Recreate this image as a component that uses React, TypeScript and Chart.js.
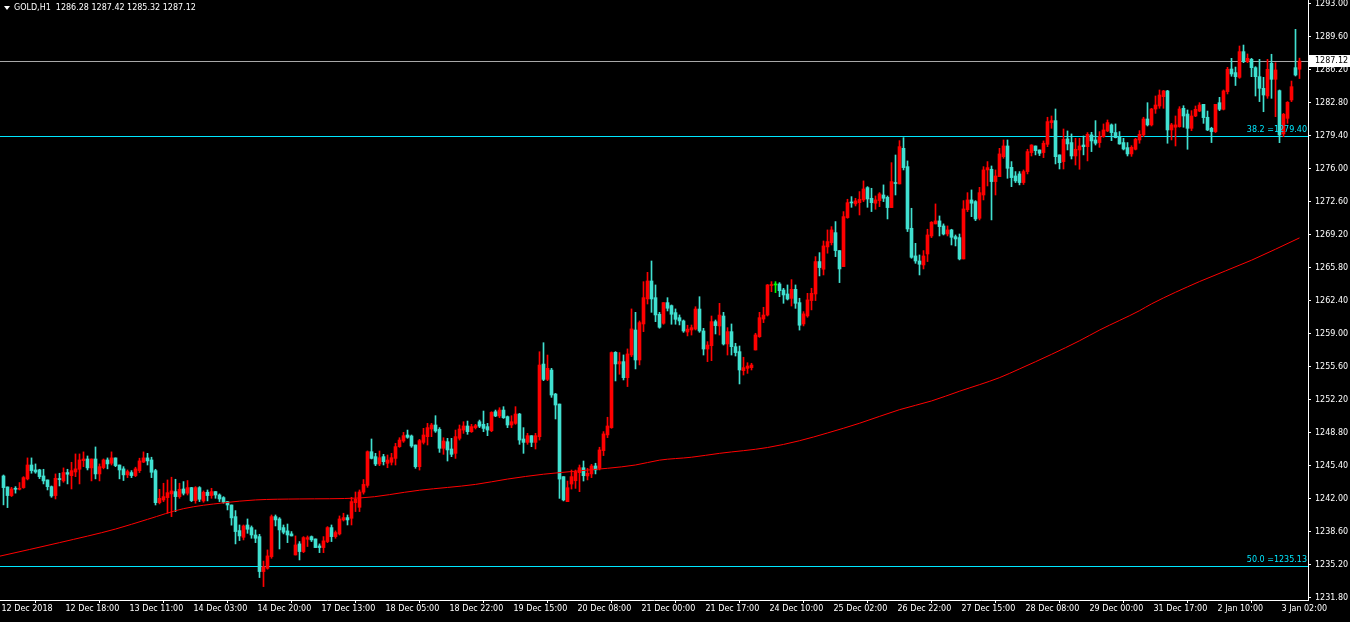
import React, { useEffect, useRef } from 'react';
import { Chart, registerables } from 'chart.js';

Chart.register(...registerables);

const symbolTitle = 'GOLD,H1';

const opens = [
1244.37,1243.24,1242.35,1243.1,1243.0,1243.17,1244.07,1245.5,1244.99,1245.0,
1244.37,1243.96,1243.27,1242.35,1244.05,1243.86,1244.72,1244.4,1244.78,1245.06,
1245.95,1246.12,1245.2,1246.12,1244.58,1245.23,1246.02,1245.68,1246.23,1245.5,
1245.1,1244.48,1244.72,1244.41,1244.92,1245.8,1246.23,1246.02,1244.92,1241.62,
1241.9,1242.14,1242.52,1242.76,1242.24,1243.03,1242.59,1243.17,1241.83,1243.17,
1241.8,1242.69,1242.35,1242.76,1242.41,1242.14,1241.73,1241.38,1240.18,1238.74,
1238.05,1239.32,1239.05,1238.29,1238.12,1234.52,1234.86,1236.06,1240.18,1239.94,
1239.05,1238.71,1238.4,1236.23,1237.37,1236.58,1237.85,1238.12,1237.88,1237.16,
1236.99,1237.61,1239.05,1238.12,1238.4,1239.84,1240.08,1240.01,1241.62,1241.14,
1242.7,1243.4,1246.87,1246.36,1245.6,1246.36,1245.67,1245.78,1246.18,1247.39,
1247.97,1248.59,1248.49,1247.56,1245.33,1247.83,1248.42,1249.21,1249.62,1249.17,
1247.22,1247.9,1247.15,1246.7,1248.25,1249.1,1249.52,1248.93,1249.35,1249.96,
1249.69,1249.45,1249.03,1250.99,1250.55,1251.16,1250.48,1249.62,1249.79,1250.75,
1248.18,1247.83,1248.52,1247.83,1248.42,1255.9,1254.32,1255.28,1252.81,1251.78,
1244.3,1241.72,1243.54,1243.88,1244.71,1245.22,1244.37,1244.58,1245.4,1245.16,
1246.98,1248.6,1249.35,1257.11,1255.91,1256.15,1254.5,1256.84,1259.41,1256.32,
1260.03,1262.61,1264.46,1262.74,1261.03,1260.1,1262.23,1261.92,1261.2,1260.68,
1260.34,1259.2,1259.41,1259.51,1261.57,1259.31,1257.45,1257.79,1260.27,1259.82,
1260.85,1257.97,1259.24,1257.69,1257.18,1255.22,1255.46,1255.53,1257.35,1258.72,
1260.54,1260.95,1263.99,1264.05,1264.15,1263.53,1263.12,1262.67,1263.6,1262.23,
1260.03,1260.86,1262.44,1263.12,1266.46,1265.67,1267.97,1268.41,1269.44,1267.59,
1265.94,1270.99,1272.53,1272.4,1272.53,1272.81,1274.08,1272.98,1272.47,1272.74,
1273.32,1273.08,1272.02,1274.53,1274.46,1278.13,1276.24,1269.89,1267.04,1266.52,
1266.11,1267.24,1269.1,1270.34,1270.65,1270.13,1269.3,1269.72,1269.03,1268.93,
1266.73,1271.81,1272.81,1272.64,1270.92,1273.32,1275.9,1275.97,1274.7,1275.21,
1277.27,1278.37,1276.17,1275.28,1275.49,1274.6,1275.73,1277.69,1278.37,1277.96,
1277.69,1278.54,1280.78,1280.98,1277.45,1276.76,1279.1,1278.72,1277.34,1277.96,
1278.47,1278.3,1279.51,1278.99,1278.72,1279.33,1279.92,1280.54,1279.75,1279.27,
1278.72,1278.2,1277.55,1278.03,1278.99,1279.51,1281.15,1280.54,1282.18,1282.49,
1283.45,1284.04,1280.02,1280.3,1280.36,1282.25,1281.66,1280.19,1281.46,1281.97,
1282.66,1281.33,1280.19,1279.85,1282.83,1282.15,1283.97,1286.3,1285.93,1285.44,
1288.09,1287.06,1287.3,1286.44,1285.51,1284.31,1283.52,1286.89,1285.24,1284.07,
1279.61,1281.22,1283.11,1286.44,1286.28
];

const highs = [
1244.47,1243.24,1243.2,1243.27,1243.69,1244.3,1246.23,1246.23,1245.61,1245.06,
1245.06,1243.96,1243.34,1244.58,1244.65,1245.2,1245.06,1245.78,1246.64,1246.64,
1246.85,1246.43,1246.12,1247.36,1245.61,1246.12,1246.23,1246.85,1246.23,1245.5,
1245.33,1244.99,1244.92,1245.27,1246.2,1246.85,1246.7,1246.3,1245.06,1242.99,
1243.62,1243.96,1244.24,1244.03,1243.62,1243.79,1243.9,1243.2,1243.27,1243.27,
1242.83,1242.93,1243.1,1242.76,1242.52,1242.24,1241.73,1241.38,1240.8,1239.32,
1239.32,1239.94,1239.22,1238.81,1238.36,1235.6,1236.75,1240.35,1240.35,1240.08,
1239.32,1239.42,1238.64,1238.19,1237.61,1238.12,1238.19,1238.19,1237.88,1237.37,
1238.12,1239.15,1239.32,1238.71,1240.25,1240.53,1240.35,1242.17,1242.72,1242.93,
1244.0,1246.95,1248.18,1246.7,1246.94,1246.6,1246.53,1246.7,1247.73,1248.31,
1248.86,1249.1,1248.59,1247.56,1248.14,1249.28,1249.79,1249.79,1250.58,1249.35,
1248.31,1248.25,1248.25,1249.1,1249.62,1249.96,1250.03,1249.69,1249.69,1250.13,
1251.06,1249.79,1250.99,1251.16,1251.4,1251.51,1250.55,1250.58,1251.51,1250.82,
1249.35,1248.76,1248.52,1248.76,1257.17,1258.1,1256.83,1255.46,1252.88,1251.78,
1244.3,1243.85,1244.98,1244.98,1245.5,1245.91,1245.16,1245.57,1245.68,1247.33,
1248.94,1250.42,1257.15,1257.18,1257.08,1256.84,1257.46,1261.58,1261.23,1260.34,
1264.39,1265.35,1266.52,1264.05,1261.23,1262.23,1262.74,1261.99,1261.58,1260.96,
1260.44,1259.9,1259.92,1261.81,1262.84,1259.58,1258.21,1260.85,1260.44,1262.16,
1261.23,1259.65,1260.03,1258.04,1257.76,1256.6,1256.04,1255.98,1259.07,1261.23,
1261.75,1264.1,1264.39,1264.39,1264.29,1263.7,1264.05,1264.6,1264.05,1262.68,
1261.3,1263.19,1263.71,1266.97,1267.38,1268.58,1269.72,1270.06,1270.58,1267.59,
1271.61,1272.88,1273.15,1272.98,1273.67,1274.77,1274.18,1274.01,1273.22,1273.56,
1274.36,1273.22,1276.65,1277.44,1278.92,1279.23,1276.83,1271.95,1268.34,1267.14,
1267.59,1269.79,1270.58,1272.4,1271.16,1270.34,1270.13,1269.79,1269.2,1269.3,
1272.74,1273.56,1273.84,1272.74,1274.11,1276.24,1276.76,1276.31,1275.9,1278.13,
1278.99,1278.99,1276.76,1275.73,1275.73,1275.9,1278.03,1278.5,1278.37,1277.96,
1278.89,1281.33,1281.46,1282.18,1277.45,1280.12,1279.92,1279.61,1279.16,1279.16,
1279.4,1279.75,1279.78,1280.98,1279.85,1280.64,1281.05,1280.64,1280.64,1279.85,
1279.16,1278.72,1278.4,1279.16,1279.95,1281.33,1282.83,1282.25,1283.52,1284.14,
1284.1,1284.1,1280.7,1281.46,1282.42,1282.52,1282.08,1282.01,1282.49,1282.83,
1282.66,1281.97,1280.3,1282.66,1283.38,1284.14,1286.47,1287.4,1286.5,1288.67,
1288.77,1287.85,1287.4,1286.54,1287.3,1285.44,1287.3,1287.82,1286.95,1284.14,
1281.73,1282.94,1285.06,1290.39,1287.42
];

const lows = [
1241.39,1241.11,1242.25,1242.6,1242.93,1243.1,1243.96,1244.65,1244.65,1244.1,
1243.55,1242.93,1242.17,1242.0,1243.34,1243.72,1243.55,1243.03,1244.3,1243.55,
1245.33,1244.99,1243.86,1244.07,1243.86,1245.1,1245.1,1245.5,1245.33,1244.07,
1243.9,1244.2,1244.2,1244.3,1244.72,1245.75,1245.5,1244.2,1241.38,1241.49,
1241.73,1240.53,1240.18,1240.7,1242.07,1242.41,1242.41,1241.73,1241.56,1241.73,
1241.66,1241.8,1242.07,1242.07,1241.73,1241.56,1240.87,1239.3,1237.37,1237.71,
1237.78,1238.46,1237.95,1237.5,1233.9,1232.97,1234.76,1235.89,1239.22,1236.85,
1238.4,1237.5,1238.19,1236.23,1235.72,1236.47,1237.1,1237.61,1236.99,1236.47,
1236.47,1237.5,1237.61,1237.95,1238.29,1239.73,1239.32,1239.32,1240.7,1240.7,
1242.5,1243.2,1246.12,1245.43,1245.43,1245.5,1245.22,1245.5,1245.5,1247.32,
1247.83,1248.25,1247.32,1245.16,1244.98,1247.66,1247.56,1248.42,1248.86,1246.8,
1246.6,1245.91,1246.36,1246.18,1248.07,1248.76,1248.66,1248.86,1249.21,1249.35,
1248.93,1248.52,1248.93,1250.48,1250.37,1250.3,1249.35,1249.35,1249.69,1247.63,
1246.7,1247.63,1247.39,1247.15,1248.07,1254.19,1254.19,1252.47,1250.24,1242.06,
1241.8,1241.72,1243.02,1243.09,1242.75,1243.85,1243.96,1244.2,1244.58,1244.99,
1246.47,1248.32,1249.28,1254.16,1254.85,1254.26,1253.58,1256.67,1255.4,1255.81,
1259.24,1262.09,1261.23,1260.27,1259.59,1260.0,1261.37,1260.0,1260.0,1259.93,
1259.17,1258.8,1258.89,1259.41,1259.17,1256.83,1256.15,1256.25,1259.0,1258.89,
1257.86,1256.83,1256.83,1256.73,1253.85,1254.77,1254.94,1255.29,1257.35,1258.65,
1260.17,1260.85,1263.36,1263.26,1262.84,1262.16,1262.5,1261.88,1261.64,1259.4,
1259.83,1260.72,1261.48,1262.44,1264.98,1265.08,1267.32,1268.17,1266.97,1264.29,
1265.94,1270.92,1272.05,1272.19,1271.26,1272.64,1272.05,1271.61,1271.85,1272.12,
1272.64,1270.85,1272.02,1273.32,1274.46,1275.9,1269.55,1266.8,1266.28,1265.08,
1265.7,1266.46,1268.93,1270.34,1269.1,1269.2,1269.1,1268.17,1268.07,1266.63,
1266.73,1271.61,1271.09,1270.68,1270.75,1272.81,1274.25,1270.75,1273.32,1275.21,
1277.1,1275.04,1274.18,1274.6,1274.36,1274.4,1275.49,1277.34,1277.45,1277.38,
1277.17,1278.3,1280.19,1276.52,1276.0,1276.0,1277.96,1277.03,1276.41,1275.97,
1277.45,1276.83,1277.79,1278.47,1278.23,1279.27,1279.85,1278.92,1279.2,1278.55,
1277.96,1277.34,1277.3,1277.96,1278.65,1279.33,1280.43,1280.43,1281.73,1282.25,
1282.25,1278.65,1278.99,1278.37,1280.3,1280.3,1278.03,1279.95,1281.39,1281.9,
1280.7,1279.95,1278.72,1279.75,1282.01,1282.08,1283.73,1285.55,1284.6,1285.34,
1286.95,1286.95,1285.51,1283.52,1282.94,1281.9,1283.28,1283.28,1281.39,1278.71,
1279.33,1280.7,1282.94,1285.58,1285.32
];

const closes = [
1243.17,1242.35,1243.03,1243.0,1243.1,1244.2,1245.5,1244.92,1244.78,1244.3,
1243.86,1243.27,1242.31,1244.13,1244.0,1244.72,1244.55,1244.92,1245.1,1246.02,
1246.12,1245.2,1246.12,1244.58,1245.33,1246.02,1245.61,1246.23,1245.44,1244.99,
1244.48,1244.82,1244.41,1245.1,1245.92,1246.23,1245.92,1244.75,1241.62,1242.07,
1242.24,1242.65,1242.83,1242.24,1243.0,1242.59,1243.17,1241.83,1243.17,1241.97,
1242.69,1242.35,1242.76,1242.41,1242.0,1241.66,1241.38,1240.05,1238.64,1238.19,
1239.22,1238.88,1238.29,1237.95,1234.52,1235.03,1236.13,1240.18,1239.84,1238.81,
1238.57,1238.29,1238.19,1237.26,1236.58,1238.02,1238.02,1237.78,1236.99,1236.99,
1237.68,1239.05,1238.12,1238.54,1239.94,1240.08,1239.84,1241.73,1241.97,1242.72,
1243.5,1246.87,1246.18,1245.6,1246.25,1245.84,1246.01,1246.25,1247.39,1248.07,
1248.52,1248.35,1247.46,1245.33,1248.01,1248.59,1249.35,1249.62,1249.0,1247.22,
1247.97,1247.05,1246.6,1248.42,1249.21,1249.52,1248.93,1249.45,1249.55,1249.5,
1249.27,1249.1,1250.92,1250.55,1251.16,1250.37,1249.62,1249.96,1250.75,1248.07,
1247.83,1248.52,1247.83,1248.52,1255.8,1254.32,1255.46,1252.71,1251.68,1244.05,
1241.9,1243.16,1244.3,1244.81,1245.22,1244.4,1244.65,1245.4,1244.99,1247.05,
1248.7,1249.52,1257.08,1255.91,1256.15,1254.5,1256.94,1259.52,1256.32,1260.17,
1262.74,1264.46,1262.61,1260.96,1259.69,1262.23,1261.65,1261.03,1260.51,1260.34,
1259.31,1259.5,1259.65,1261.57,1259.31,1257.45,1257.86,1260.27,1259.86,1260.95,
1257.97,1259.24,1257.69,1257.08,1255.29,1255.53,1255.7,1255.8,1258.9,1260.68,
1260.95,1264.05,1264.05,1264.05,1263.46,1263.02,1262.6,1263.6,1262.16,1259.9,
1261.07,1262.51,1263.19,1266.46,1265.84,1268.07,1268.52,1269.72,1267.59,1265.7,
1271.09,1272.53,1272.5,1272.71,1272.88,1273.94,1272.91,1272.53,1272.81,1273.43,
1272.98,1272.02,1274.7,1274.5,1278.3,1276.14,1269.82,1266.9,1266.52,1266.18,
1267.04,1269.2,1270.51,1270.65,1270.06,1269.3,1269.72,1268.96,1268.79,1266.73,
1271.88,1272.81,1272.47,1270.85,1273.56,1275.9,1276.14,1274.7,1275.28,1277.55,
1278.37,1276.07,1275.11,1274.77,1274.6,1275.73,1277.79,1278.47,1277.89,1277.62,
1278.65,1280.88,1280.98,1277.27,1276.65,1279.06,1278.58,1277.34,1278.03,1278.37,
1278.3,1279.57,1278.89,1278.65,1279.33,1280.02,1280.78,1279.75,1279.23,1278.58,
1278.06,1277.55,1278.23,1279.06,1279.57,1281.15,1280.54,1282.18,1282.59,1283.62,
1284.04,1280.02,1280.54,1280.54,1282.18,1281.46,1280.19,1281.46,1282.15,1282.59,
1281.29,1280.02,1279.85,1282.66,1282.15,1284.04,1286.27,1285.79,1285.51,1288.09,
1287.06,1287.4,1286.44,1285.51,1284.31,1283.62,1286.27,1285.24,1286.2,1279.5,
1281.63,1282.87,1284.48,1285.68,1287.12
];

const timeLabels = [
  '12 Dec 2018', '12 Dec 18:00', '13 Dec 11:00', '14 Dec 03:00', '14 Dec 20:00',
  '17 Dec 13:00', '18 Dec 05:00', '18 Dec 22:00', '19 Dec 15:00', '20 Dec 08:00',
  '21 Dec 00:00', '21 Dec 17:00', '24 Dec 10:00', '25 Dec 02:00', '26 Dec 22:00',
  '27 Dec 15:00', '28 Dec 08:00', '29 Dec 00:00', '31 Dec 17:00', '2 Jan 10:00',
  '3 Jan 02:00'
];
const timeLabelBars = [0, 16, 32, 48, 64, 80, 96, 112, 128, 144, 160, 176, 192, 208, 224, 240, 256, 272, 288, 304, 320];

const yTickValues = [
  1293.0, 1289.6, 1286.2, 1282.8, 1279.4, 1276.0, 1272.6, 1269.2, 1265.8, 1262.4,
  1259.0, 1255.6, 1252.2, 1248.8, 1245.4, 1242.0, 1238.6, 1235.2, 1231.8
];

const maBars = [-1, 14, 28, 36, 45, 55, 63, 74, 89, 104, 118, 126, 135, 144, 158, 164, 172, 179, 191, 199, 206, 214, 224, 232, 239, 249, 254, 262, 269, 274, 284, 287, 299, 312, 324];
const maValues = [
  1236.1, 1237.5, 1238.9, 1239.9, 1241.0, 1241.6, 1241.9, 1242.0, 1242.1, 1242.9,
  1243.5, 1244.05, 1244.55, 1244.9, 1245.5, 1246.0, 1246.3, 1246.7, 1247.3, 1248.0,
  1248.8, 1249.8, 1251.2, 1252.1, 1253.1, 1254.5, 1255.4, 1256.9, 1258.3, 1259.4,
  1261.4, 1262.1, 1264.4, 1266.6, 1268.9
];

const lastPrice = 1287.12;
const fibLevels = ['38.2', '50.0'];
const fibPrices = [1279.4, 1235.13];

const BULL = '#ff0000';
const BEAR = '#40e0d0';
const DOJI = '#00ff00';
const FIB = '#00e8ff';
const PRICE_LINE = '#a8a8a8';
const FONT = '"DejaVu Sans", sans-serif';

const X_MIN = -0.875;
const X_MAX = 326.125;
const Y_MIN = 1231.59;
const Y_MAX = 1293.41;

export default function App() {
  const ref = useRef<HTMLCanvasElement>(null);

  useEffect(() => {
    document.body.style.margin = '0';
    document.body.style.background = '#000';
    const canvas = ref.current;
    if (!canvas) return;

    const colors = closes.map((c, i) => (c > opens[i] ? BULL : c < opens[i] ? BEAR : DOJI));
    const idx = opens.map((_, i) => i);
    const n = opens.length - 1;

    const levels = {
      id: 'mt4levels',
      beforeDatasetsDraw(chart: any) {
        const { ctx, chartArea, scales } = chart;
        const ys = scales.y;
        const drawLevel = (p: number, color: string) => {
          const y = Math.round(ys.getPixelForValue(p)) + 0.5;
          ctx.beginPath();
          ctx.moveTo(chartArea.left, y);
          ctx.lineTo(chartArea.right, y);
          ctx.strokeStyle = color;
          ctx.lineWidth = 1;
          ctx.stroke();
        };
        ctx.save();
        drawLevel(lastPrice, PRICE_LINE);
        fibPrices.forEach((p) => drawLevel(p, FIB));
        ctx.restore();
      },
    };

    const overlay = {
      id: 'mt4overlay',
      afterDraw(chart: any) {
        const { ctx, chartArea, scales } = chart;
        const ys = scales.y;
        ctx.save();
        ctx.font = `8px ${FONT}`;
        ctx.textBaseline = 'middle';
        ctx.fillStyle = '#ffffff';
        ctx.beginPath();
        ctx.moveTo(4, 6);
        ctx.lineTo(10, 6);
        ctx.lineTo(7, 10);
        ctx.closePath();
        ctx.fill();
        ctx.textAlign = 'left';
        const header = `${symbolTitle}  ${opens[n].toFixed(2)} ${highs[n].toFixed(2)} ${lows[n].toFixed(2)} ${closes[n].toFixed(2)}`;
        ctx.fillText(header, 14, 8);
        ctx.fillStyle = FIB;
        ctx.textAlign = 'right';
        fibPrices.forEach((p, i) => {
          ctx.fillText(`${fibLevels[i]} =${p.toFixed(2)}`, chartArea.right - 1, Math.round(ys.getPixelForValue(p)) - 6);
        });
        const py = Math.round(ys.getPixelForValue(lastPrice));
        ctx.fillStyle = '#ffffff';
        ctx.fillRect(chartArea.right + 1, py - 6, 42, 12);
        ctx.fillStyle = '#000000';
        ctx.textAlign = 'left';
        ctx.fillText(lastPrice.toFixed(2), chartArea.right + 7, py);
        ctx.restore();
      },
    };

    const chart = new Chart(canvas, {
      type: 'bar',
      data: {
        datasets: [
          {
            type: 'bar',
            data: idx.map((i) => ({ x: i, y: [lows[i], highs[i]] })),
            backgroundColor: colors,
            barThickness: 1,
            grouped: false,
            order: 3,
          },
          {
            type: 'bar',
            data: idx.map((i) => ({ x: i, y: [opens[i], closes[i]] })),
            backgroundColor: colors,
            barThickness: 3,
            minBarLength: 1,
            grouped: false,
            order: 2,
          },
          {
            type: 'line',
            data: maBars.map((b, i) => ({ x: b, y: maValues[i] })),
            borderColor: '#ff0000',
            borderWidth: 1,
            pointRadius: 0,
            cubicInterpolationMode: 'monotone',
            order: 1,
          },
        ] as any,
      },
      options: {
        animation: false,
        responsive: false,
        maintainAspectRatio: false,
        events: [],
        layout: { padding: 0 },
        plugins: {
          legend: { display: false },
          tooltip: { enabled: false },
          title: { display: false },
        },
        scales: {
          x: {
            type: 'linear',
            min: X_MIN,
            max: X_MAX,
            offset: false,
            grid: { display: true, drawOnChartArea: false, drawTicks: true, tickLength: 3, color: '#ffffff' },
            border: { display: true, color: '#ffffff' },
            ticks: {
              autoSkip: false,
              maxRotation: 0,
              minRotation: 0,
              align: 'start',
              labelOffset: -2,
              padding: 1,
              color: '#ffffff',
              font: { family: FONT, size: 8 },
              callback: (v: any) => {
                const j = timeLabelBars.indexOf(Number(v));
                return j >= 0 ? timeLabels[j] : '';
              },
            },
            afterBuildTicks: (s: any) => {
              s.ticks = timeLabelBars.map((v) => ({ value: v }));
            },
            afterFit: (s: any) => {
              s.height = 22;
              s.paddingLeft = 0;
              s.paddingRight = 0;
            },
          } as any,
          y: {
            type: 'linear',
            position: 'right',
            min: Y_MIN,
            max: Y_MAX,
            grid: { display: true, drawOnChartArea: false, drawTicks: true, tickLength: 3, color: '#ffffff' },
            border: { display: true, color: '#ffffff' },
            ticks: {
              autoSkip: false,
              padding: 4,
              color: '#ffffff',
              font: { family: FONT, size: 8 },
              callback: (v: any) => Number(v).toFixed(2),
            },
            afterBuildTicks: (s: any) => {
              s.ticks = yTickValues.map((v) => ({ value: v }));
            },
            afterFit: (s: any) => {
              s.width = 42;
              s.paddingTop = 0;
              s.paddingBottom = 0;
            },
          } as any,
        },
      },
      plugins: [levels, overlay],
    });

    return () => chart.destroy();
  }, []);

  return (
    <div style={{ width: 1350, height: 622, background: '#000' }}>
      <canvas ref={ref} width={1350} height={622} style={{ display: 'block' }} />
    </div>
  );
}
